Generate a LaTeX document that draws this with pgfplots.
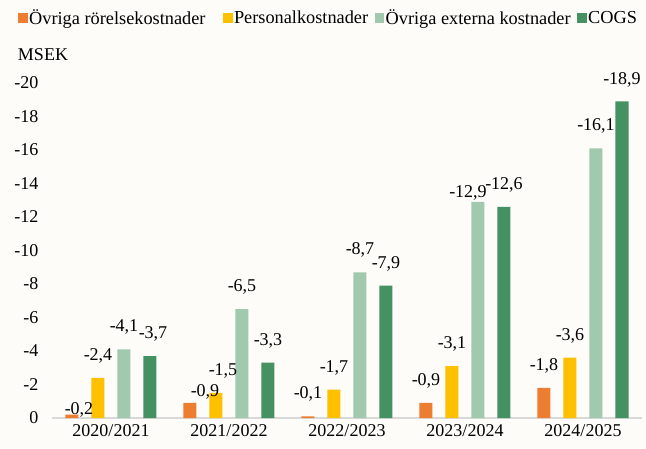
\documentclass[border=0pt]{standalone}
\usepackage{fontspec}
\setmainfont{Liberation Serif}
\usepackage{pgfplots}
\pgfplotsset{compat=1.18}
\definecolor{bg}{RGB}{253,252,249}
\definecolor{c1}{RGB}{237,125,49}
\definecolor{c2}{RGB}{255,192,0}
\definecolor{c3}{RGB}{161,201,174}
\definecolor{c4}{RGB}{69,145,98}
\definecolor{axgray}{RGB}{217,217,217}
\begin{document}
\begin{tikzpicture}[x=1pt,y=1pt]
\useasboundingbox (0,0) rectangle (646,448);
\fill[bg] (0,0) rectangle (646,448);
\begin{axis}[
  at={(52pt,30pt)}, anchor=south west,
  scale only axis, width=590pt, height=335pt,
  xmin=-0.5, xmax=4.5, ymin=0, ymax=20,
  axis lines*=left,
  y axis line style={draw=none},
  x axis line style={draw=axgray, line width=1.5pt},
  major tick length=0pt,
  ytick={0,2,...,20},
  yticklabels={0,-2,-4,-6,-8,-10,-12,-14,-16,-18,-20},
  xtick={0,1,2,3,4},
  xticklabels={2020/2021,2021/2022,2022/2023,2023/2024,2024/2025},
  ticklabel style={font=\fontsize{18}{18}\selectfont},
  yticklabel style={xshift=-10pt},
  xticklabel style={yshift=-3pt},
  ybar, bar width=13pt,
  /pgf/number format/assume math mode=true,
  nodes near coords={-\pgfmathprintnumber[fixed,fixed zerofill,precision=1,use comma]{\pgfplotspointmeta}},
  every node near coord/.append style={anchor=center, yshift=22pt, text=black, font=\fontsize{18}{18}\selectfont},
  legend style={at={(axis description cs:-0.0627,1.194)}, anchor=west, legend columns=4, draw=none, fill=none,
    font=\fontsize{18.3}{18.3}\selectfont, nodes={inner sep=1.5pt}},
  legend image code/.code={\fill[#1] (0pt,-4.5pt) rectangle (9.5pt,5pt);},
  clip=false,
]
\addplot[fill=c1, draw=none, bar shift=-39pt,
  coordinate style/.condition={\coordindex==0}{xshift=7pt,yshift=-17pt},
  coordinate style/.condition={\coordindex==1}{xshift=15pt,yshift=-11pt}]
  coordinates {(0,0.2) (1,0.9) (2,0.1) (3,0.9) (4,1.8)};
\addplot[fill=c2, draw=none, bar shift=-13pt,
  coordinate style/.condition={\coordindex==1}{xshift=7pt}]
  coordinates {(0,2.4) (1,1.5) (2,1.7) (3,3.1) (4,3.6)};
\addplot[fill=c3, draw=none, bar shift=13pt,
  coordinate style/.condition={\coordindex==3}{xshift=-10pt,yshift=-13pt}]
  coordinates {(0,4.1) (1,6.5) (2,8.7) (3,12.9) (4,16.1)};
\addplot[fill=c4, draw=none, bar shift=39pt,
  coordinate style/.condition={\coordindex==0}{xshift=3pt}]
  coordinates {(0,3.7) (1,3.3) (2,7.9) (3,12.6) (4,18.9)};
\legend{Övriga rörelsekostnader\rule{16pt}{0pt},Personalkostnader\rule{5pt}{0pt},Övriga externa kostnader\rule{5pt}{0pt},COGS}
\end{axis}
\node[font=\fontsize{18}{18}\selectfont] at (43,393) {MSEK};
\end{tikzpicture}
\end{document}
